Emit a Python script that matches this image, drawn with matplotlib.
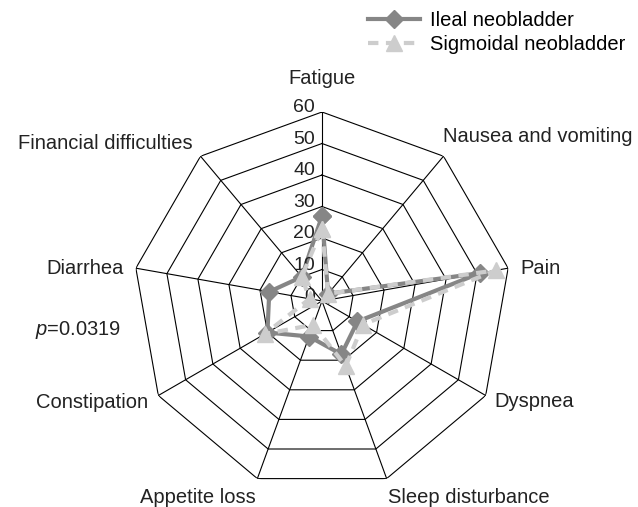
import numpy as np
import matplotlib.pyplot as plt

plt.rcParams['font.family'] = ['Liberation Sans', 'DejaVu Sans']
plt.rcParams['mathtext.fontset'] = 'custom'
plt.rcParams['mathtext.it'] = 'Liberation Sans:italic'
plt.rcParams['mathtext.rm'] = 'Liberation Sans'

categories = ['Fatigue', 'Nausea and vomiting', 'Pain', 'Dyspnea', 'Sleep disturbance',
              'Appetite loss', 'Constipation', 'Diarrhea', 'Financial difficulties']
ileal = [27, 3, 51, 13, 18, 12, 20, 17, 10]
sigmoidal = [23, 3, 56, 15, 22, 8, 21, 4, 10]
rticks = [0, 10, 20, 30, 40, 50, 60]

n = len(categories)
theta = np.arange(n) * 2 * np.pi / n
theta_c = np.append(theta, theta[0])

fig = plt.figure(figsize=(6.38, 5.07), dpi=100)
# centre at (322, 301) px, radius ~189 px
ax = fig.add_axes([(322 - 189) / 638, (507 - 301 - 189) / 507, 378 / 638, 378 / 507], projection='polar')
ax.set_theta_offset(np.pi / 2)
ax.set_theta_direction(-1)
ax.set_ylim(0, 60)
ax.set_xticks([])
ax.set_yticks([])
ax.grid(False)
ax.spines['polar'].set_visible(False)
ax.patch.set_visible(False)

# polygon grid
for r in rticks[1:]:
    ax.plot(theta_c, [r] * (n + 1), color='black', lw=0.8, zorder=1)
for t in theta:
    ax.plot([t, t], [0, 60], color='black', lw=0.8, zorder=1)

# series
ax.plot(theta_c, ileal + ileal[:1], color='#868686', lw=3, marker='D', ms=9,
        label='Ileal neobladder', zorder=3, clip_on=False)
ax.plot(theta_c, sigmoidal + sigmoidal[:1], color='#cdcdcd', lw=3, ls=(0, (2.5, 1.8)),
        marker='^', ms=12, label='Sigmoidal neobladder', zorder=4, clip_on=False)

# radial tick labels
for r in rticks:
    ax.annotate(str(r), xy=(0, r), xytext=(-5, 3), textcoords='offset points',
                ha='right', va='center', fontsize=14, color='#222222')

# category labels: (offset x, offset y, ha)
label_pos = [(0, 24, 'center'), (0, 14, 'left'), (9, 0, 'left'), (6.5, -4, 'left'),
             (1, -13.5, 'left'), (-1.5, -13.5, 'right'), (-7.5, -5, 'right'),
             (-8.5, 0, 'right'), (-5.5, 9.5, 'right')]
for t, lab, (dx, dy, ha) in zip(theta, categories, label_pos):
    ax.annotate(lab, xy=(t, 60), xytext=(dx, dy), textcoords='offset points',
                ha=ha, va='center', fontsize=14.5, color='#222222', annotation_clip=False)

fig.text(35 / 638, 1 - 330 / 507, '$p$=0.0319', ha='left', va='center',
         fontsize=14.5, color='#222222')

fig.legend(loc='upper left', bbox_to_anchor=(368 / 638, 1 - 11 / 507), frameon=False,
           fontsize=14.5, handlelength=2.6, handletextpad=0.5, labelspacing=0.25,
           borderpad=0, borderaxespad=0)

fig.savefig('out.png', dpi=100)
